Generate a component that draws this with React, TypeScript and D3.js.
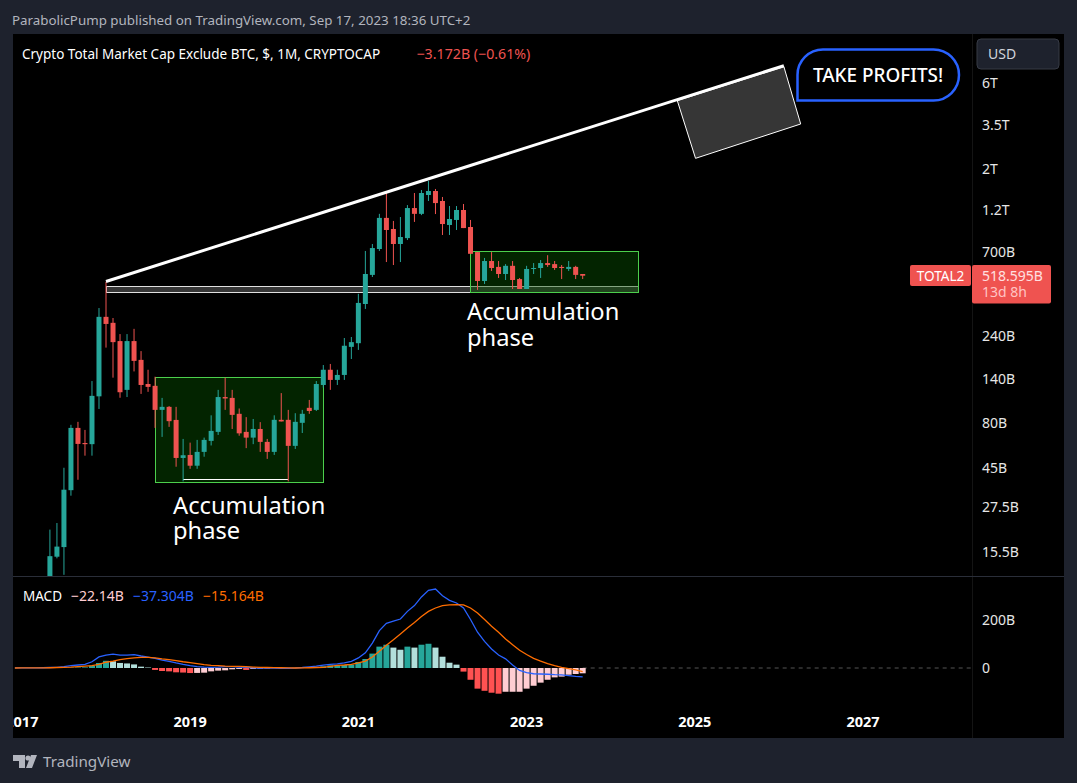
import React from "react";
import * as d3 from "d3";

// months counted from Jan 2018, first visible candle is May 2017
const firstMonth = -8;
const macdFirstMonth = -13;
const opens = [
	9.6, 14.6, 16.5, 34, 75, 61.9, 61, 112,
	307.5, 285, 226, 121.6, 226, 178, 131, 128, 94.3, 98, 83, 51.2,
	53.2, 46.4, 55.3, 63.6, 71.3, 111, 109.8, 89.7, 71.3, 66.3, 74, 62.8,
	55.3, 83.1, 83.1, 59.7, 80, 96.8, 94.3, 129.4, 157, 138, 147, 210,
	220, 362, 524, 728, 1081, 939, 776, 836, 1225, 1138, 1446, 1521,
	1340, 988, 1053, 1195, 963, 700, 485, 625, 580, 530, 588, 497,
	438, 565, 572, 609, 601, 580, 565, 580, 530,
];
const highs = [
	20.6, 22.4, 45.2, 78, 81, 73.1, 136, 344,
	480, 303, 247, 247, 264, 199, 157, 143.7, 109.8, 99, 98, 65.2,
	62.2, 64.4, 66.3, 88, 121.6, 142, 121.6, 96, 86, 84, 80.7, 65.2,
	88, 116.7, 94.3, 90.4, 94.3, 107, 136, 166.7, 169, 157, 235, 238,
	412, 710, 776, 1138, 1502, 1040, 1093, 1272, 1483, 1541, 1728, 1561,
	1410, 1257, 1257, 1290, 1053, 700, 650, 700, 625, 601, 625, 504,
	588, 609, 633, 673, 625, 594, 625, 588, 530,
];
const lows = [
	8.6, 14.3, 11.6, 31.7, 38.8, 52.7, 52.7, 95.4,
	208, 142, 110, 111, 153.7, 115.5, 118.6, 75, 66.9, 76, 45.8, 38,
	44.6, 44.6, 52, 60, 68.6, 94.3, 74, 67.9, 58, 61, 55.3, 50.6,
	53.2, 81.4, 38, 57.4, 70.3, 89.7, 93, 125, 121.6, 129.4, 138, 180,
	202, 340, 510, 710, 617, 594, 617, 816, 1027, 1120, 1340, 1135,
	870, 870, 927, 950, 683, 433, 467, 551, 504, 491, 438, 438,
	438, 530, 504, 580, 558, 497, 551, 497, 497,
];
const closes = [
	14.7, 16.6, 34.2, 75, 61.2, 61, 112.7, 307.5,
	281, 223, 118, 226, 175.7, 129.4, 126.3, 94.3, 98, 81.7, 51.2, 53,
	46.4, 55.3, 64.4, 72.2, 111, 109, 88.5, 70, 66.3, 74, 62.8, 55.3,
	83.1, 81.4, 59.7, 81, 89.7, 93, 131, 157, 138, 147, 213, 223,
	367, 530, 737, 1081, 927, 776, 848, 1225, 1138, 1483, 1521, 1305,
	1000, 1066, 1195, 950, 685, 485, 625, 572, 530, 588, 491, 438,
	565, 572, 609, 594, 572, 572, 580, 524, 518.6,
];
const macdLine = [
	0.2, 0.3, 0.4, 0.6, 1,
	2, 3, 6, 10, 12.5, 15, 26, 46,
	54, 58, 54, 54, 56, 50, 45, 40, 33, 28, 21, 15,
	10, 6, 4, 3, 4, 6, 6, 4, 3, 1, 0, 0,
	0, -1, -1, 0, 2, 5, 8, 12, 15, 17, 21, 28,
	42, 63, 104, 156, 186, 195, 204, 236, 260, 296, 324, 329,
	301, 282, 271, 250, 202, 149, 111, 79, 54, 38, 12.5, -10,
	-19, -24, -25, -26, -28, -29, -32, -35, -37.3,
];
const signalLine = [
	0.1, 0.2, 0.3, 0.4, 0.6,
	1, 2, 3, 4, 6, 8, 10, 15,
	24, 29, 35, 39, 42, 44, 44, 42, 38, 35, 31, 26,
	22, 18, 14, 11, 10, 8, 7, 7, 6, 4, 3, 2,
	1.5, 1, 0.5, 0, 0.5, 1, 2, 3, 7, 11, 12.5, 15,
	21, 29, 46, 70, 95, 118, 142, 167, 190, 215, 236, 250,
	260, 263, 264, 263, 250, 229, 202, 174, 149, 121, 97, 74,
	56, 40, 29, 18, 10, 3, -3, -8, -15.16,
];
const histogram = [
	0.3, 0.5, 1, 1.5, 2, 2.5, 9.7, 20.8,
	30, 28, 21, 19, 15, 5.6, 2, -8, -12.5, -14, -18, -19,
	-21, -20.5, -19.5, -14, -11, -9.7, -5.6, -4, -8, -4, -3, -2,
	-0.5, 0, 0.3, 0.5, 1, 1.5, 3, 7, 11, 11, 12.5, 14,
	25, 37.5, 60, 89, 97, 85, 76, 89, 85, 97, 101, 85,
	47, 22, 14, -15, -49, -86, -95, -103, -107, -99, -99, -99,
	-86, -74, -61, -49, -39, -36, -28, -25, -22.14,
];

const priceTicks = [6000, 3500, 2000, 1200, 700, 240, 140, 80, 45, 27.5, 15.5];
const priceLabels = ["6T", "3.5T", "2T", "1.2T", "700B", "240B", "140B", "80B", "45B", "27.5B", "15.5B"];
const yearTicks = [-12, 12, 36, 60, 84, 108];
const yearLabels = ["2017", "2019", "2021", "2023", "2025", "2027"];
const macdTicks = [200, 0];
const macdLabels = ["200B", "0"];

// annotations, as [month, price]
const trendLine = [[0, 482], [96.7, 7475]];
const takeProfitBox = [[81.5, 4791], [96.7, 7382], [99.1, 3564], [84.1, 2304]];
const supportBand = [0, 76, 451, 420];
const accumulationA = [7, 31, 143, 37.7];
const accumulationB = [52, 76, 707, 420];
const bottomLine = [11, 26, 38.8];

const FONT = "'Noto Sans', sans-serif";
const UP = "#26a69a";
const DOWN = "#ef5350";

const x = d3.scaleLinear().domain([0, 120]).range([106, 947.2]);
const y = d3.scaleLog().domain([6000, 15.5]).range([83, 552]);
const yMacd = d3.scaleLinear().domain([0, 200]).range([668, 620]);

const months = d3.range(firstMonth, firstMonth + closes.length);

const App: React.FC = () => {
	const lineOf = d3
		.line<number>()
		.x((_, i) => x(macdFirstMonth + i))
		.y((d) => yMacd(d));

	const histColor = (v: number, i: number) => {
		const prev = i > 0 ? histogram[i - 1] : 0;
		if (v >= 0) return v >= prev ? UP : "#b2dfdb";
		return v >= prev ? "#ffcdd2" : "#ff5252";
	};

	const box = (b: number[], fill: string, stroke: string) => (
		<rect
			x={x(b[0])}
			y={y(b[2])}
			width={x(b[1]) - x(b[0])}
			height={y(b[3]) - y(b[2])}
			fill={fill}
			stroke={stroke}
			strokeWidth={1}
			shapeRendering="crispEdges"
		/>
	);

	return (
		<svg
			width={1077}
			height={783}
			style={{ position: "absolute", left: 0, top: 0, display: "block" }}
			fontFamily={FONT}
		>
			<defs>
				<clipPath id="main">
					<rect x={13} y={34} width={959} height={542} />
				</clipPath>
				<clipPath id="lower">
					<rect x={13} y={577} width={959} height={161} />
				</clipPath>
			</defs>
			<rect width={1077} height={783} fill="#1e222d" />
			<rect x={13} y={34} width={1051} height={704} fill="#000" />
			<text x={12} y={25} fontSize={13.35} fill="#b2b5be">
				ParabolicPump published on TradingView.com, Sep 17, 2023 18:36 UTC+2
			</text>

			<line x1={972.5} x2={972.5} y1={34} y2={738} stroke="#141414" />
			<line x1={13} x2={1064} y1={576.5} y2={576.5} stroke="#2a2e39" />

			<g clipPath="url(#main)">
				{box(supportBand, "#363636", "#e0e0e0")}
				{box(accumulationA, "rgba(8,85,0,0.42)", "#4ccf4c")}
				{box(accumulationB, "rgba(8,85,0,0.42)", "#4ccf4c")}
				<line
					x1={x(bottomLine[0])}
					x2={x(bottomLine[1])}
					y1={y(bottomLine[2])}
					y2={y(bottomLine[2])}
					stroke="#fff"
					strokeWidth={1}
					shapeRendering="crispEdges"
				/>
				{months.map((m, i) => {
					const up = closes[i] >= opens[i];
					const color = up ? UP : DOWN;
					const top = y(Math.max(opens[i], closes[i]));
					const bottom = y(Math.min(opens[i], closes[i]));
					return (
						<g key={m}>
							<line
								x1={x(m)}
								x2={x(m)}
								y1={y(highs[i])}
								y2={y(lows[i])}
								stroke={color}
							/>
							<rect
								x={x(m) - 2.5}
								y={top}
								width={5}
								height={Math.max(bottom - top, 1)}
								fill={color}
							/>
						</g>
					);
				})}
				<polygon
					points={takeProfitBox.map((p) => `${x(p[0])},${y(p[1])}`).join(" ")}
					fill="#363636"
					stroke="#fff"
					strokeWidth={1}
				/>
				<line
					x1={x(trendLine[0][0])}
					y1={y(trendLine[0][1])}
					x2={x(trendLine[1][0])}
					y2={y(trendLine[1][1])}
					stroke="#fff"
					strokeWidth={3}
				/>
			</g>

			<text x={22} y={59} fontSize={13.5} fill="#fff">
				Crypto Total Market Cap Exclude BTC, $, 1M, CRYPTOCAP
			</text>
			<text x={416.5} y={59} fontSize={14.2} fill="#ef5350">
				−3.172B (−0.61%)
			</text>

			<path
				d="M797.5 100.5 V75 A25.5 25.5 0 0 1 823 49.5 H933.5 A25.5 25.5 0 0 1 933.5 100.5 Z"
				fill="#000"
				stroke="#2962ff"
				strokeWidth={2.5}
			/>
			<text x={878} y={81.5} fontSize={18.9} fontWeight={500} fill="#fff" textAnchor="middle">
				TAKE PROFITS!
			</text>

			<text fontSize={23.7} fill="#fff">
				<tspan x={173} y={514}>Accumulation</tspan>
				<tspan x={173} y={539}>phase</tspan>
			</text>
			<text fontSize={23.7} fill="#fff">
				<tspan x={467} y={320}>Accumulation</tspan>
				<tspan x={467} y={346}>phase</tspan>
			</text>

			<rect x={977} y={39} width={82} height={30} rx={4} fill="#1e222d" stroke="#363a45" />
			<text x={988} y={59} fontSize={14} fill="#d1d4dc">USD</text>
			{priceTicks.map((t, i) => (
				<text key={t} x={982} y={y(t) + 5} fontSize={14} fill="#e6e6e6">
					{priceLabels[i]}
				</text>
			))}

			<rect x={910} y={265} width={61} height={21} rx={2} fill="#ef5350" />
			<text x={940.5} y={280.5} fontSize={13.6} fill="#fff" textAnchor="middle">TOTAL2</text>
			<rect x={972} y={265} width={79} height={38.5} rx={2} fill="#ef5350" />
			<text x={982} y={280.5} fontSize={14} fill="#ffe0e0">518.595B</text>
			<text x={982} y={296.5} fontSize={14} fill="#ffc4c4">13d 8h</text>

			{/* MACD pane */}
			<line
				x1={x(months[months.length - 1])}
				x2={972}
				y1={yMacd(0)}
				y2={yMacd(0)}
				stroke="#555"
				strokeDasharray="4 4"
			/>
			{histogram.map((v, i) => (
				<rect
					key={months[i]}
					x={x(months[i]) - 3}
					y={Math.min(yMacd(v), yMacd(0))}
					width={6}
					height={Math.abs(yMacd(v) - yMacd(0))}
					fill={histColor(v, i)}
				/>
			))}
			<g clipPath="url(#lower)">
				<path d={lineOf(macdLine) ?? ""} fill="none" stroke="#2962ff" strokeWidth={1.3} />
				<path d={lineOf(signalLine) ?? ""} fill="none" stroke="#ff6d00" strokeWidth={1.3} />
			</g>

			<text x={23} y={601} fontSize={13.5} fill="#fff">MACD</text>
			<text x={71} y={601} fontSize={14} fill="#ffcdd2">−22.14B</text>
			<text x={133} y={601} fontSize={14} fill="#2962ff">−37.304B</text>
			<text x={203} y={601} fontSize={14} fill="#ff6d00">−15.164B</text>
			{macdTicks.map((t, i) => (
				<text key={t} x={982} y={yMacd(t) + 5} fontSize={14} fill="#e6e6e6">
					{macdLabels[i]}
				</text>
			))}

			<g clipPath="url(#lower)">
				{yearTicks.map((t, i) => (
					<text
						key={t}
						x={x(t)}
						y={727}
						fontSize={14.5}
						fontWeight={700}
						fill="#fff"
						textAnchor="middle"
					>
						{yearLabels[i]}
					</text>
				))}
			</g>

			<path d="M13 755 H25 V768 H19 V761 H13 Z M37 755 H31 L26 768 H32 Z" fill="#b2b5be" />
			<circle cx={28} cy={758} r={2.6} fill="#b2b5be" />
			<text x={43} y={767} fontSize={15.2} fill="#b2b5be">TradingView</text>
		</svg>
	);
};

export default App;
